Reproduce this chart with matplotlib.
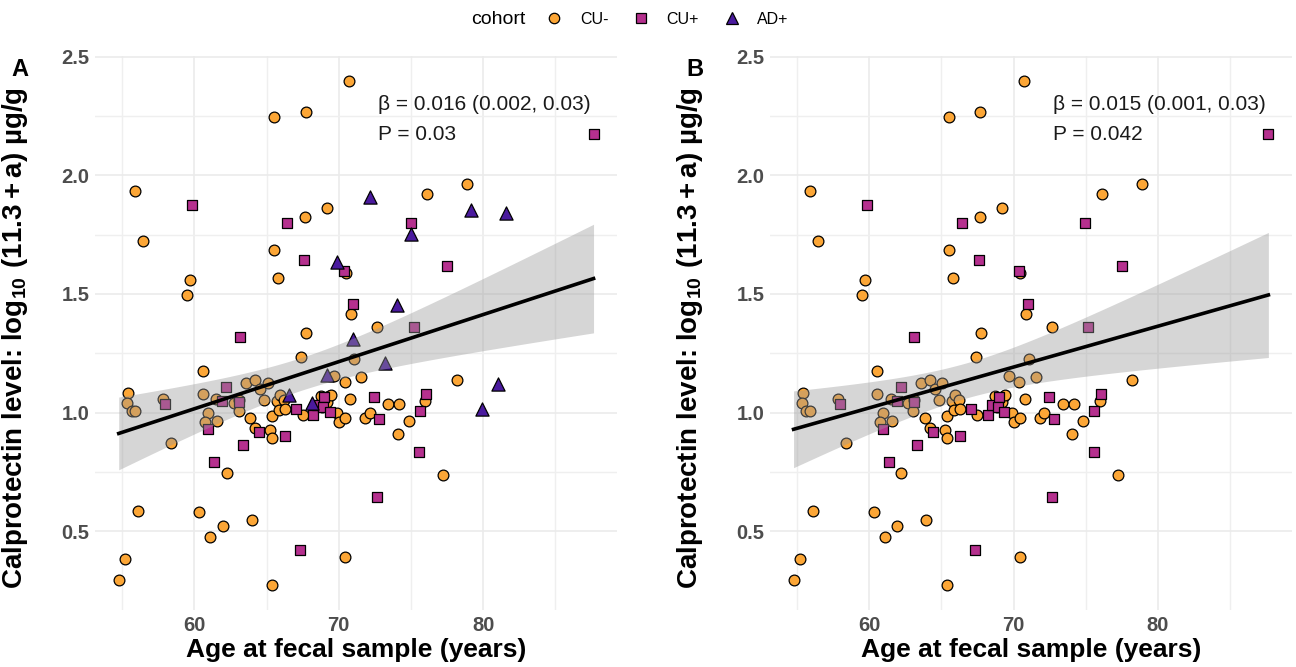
import numpy as np
import matplotlib
matplotlib.use('Agg')
import matplotlib.pyplot as plt
from matplotlib.lines import Line2D

plt.rcParams['font.family'] = ['Liberation Sans', 'DejaVu Sans']
plt.rcParams['mathtext.fontset'] = 'custom'
plt.rcParams['mathtext.rm'] = 'Liberation Sans:bold'
plt.rcParams['mathtext.bf'] = 'Liberation Sans:bold'

# values: (age, log10 calprotectin)
cu_neg_age = [65.5, 67.7, 55.9, 69.2, 67.66, 56.47, 65.55, 59.73, 65.78, 59.48,
              67.73, 70.74, 78.9, 76.12, 70.47, 70.83, 72.66, 67.37, 60.58, 55.41,
              55.34, 55.66, 55.9, 57.83, 58.4, 60.58, 60.93, 60.77, 61.57, 61.5,
              62.72, 63.07, 63.6, 64.19, 64.56, 65.07, 63.87, 64.86, 64.21, 65.23,
              65.37, 65.37, 65.76, 65.92, 66.2, 65.87, 66.28, 67.5, 68.74, 69.32,
              68.86, 69.2, 69.66, 69.9, 70.0, 70.45, 62.24, 56.12, 60.35, 61.96,
              61.07, 63.97, 55.2, 54.77, 65.37, 71.04, 70.4, 71.55, 78.17, 70.81,
              69.43, 76.0, 73.43, 74.19, 71.85, 72.14, 74.83, 74.08, 77.23, 70.42,
              63.1]
cu_neg_val = [2.246, 2.267, 1.933, 1.863, 1.823, 1.721, 1.687, 1.558, 1.568, 1.497,
              1.334, 2.398, 1.964, 1.923, 1.588, 1.416, 1.360, 1.233, 1.175, 1.084,
              1.042, 1.005, 1.005, 1.059, 0.871, 1.080, 0.999, 0.962, 0.965, 1.059,
              1.039, 1.005, 1.126, 1.137, 1.100, 1.126, 0.979, 1.053, 0.933, 0.926,
              0.893, 0.985, 1.049, 1.075, 1.052, 1.009, 1.014, 0.988, 1.069, 1.069,
              1.023, 1.045, 1.152, 1.000, 0.962, 0.977, 0.747, 0.586, 0.581, 0.523,
              0.477, 0.548, 0.384, 0.293, 0.274, 1.225, 1.130, 1.151, 1.137, 1.055,
              1.073, 1.048, 1.035, 1.037, 0.977, 0.998, 0.965, 0.909, 0.735, 0.389,
              1.052]

cu_pos_age = [59.85, 66.4, 67.6, 63.14, 87.64, 74.97, 70.35, 77.52, 71.0, 75.18,
              57.99, 62.19, 60.95, 61.9, 63.09, 64.45, 66.28, 67.07, 68.21, 68.52,
              68.97, 68.9, 69.37, 63.34, 61.37, 67.32, 72.42, 76.03, 75.6, 72.79,
              75.55, 72.66]
cu_pos_val = [1.874, 1.799, 1.642, 1.320, 2.175, 1.798, 1.598, 1.616, 1.459, 1.362,
              1.037, 1.109, 0.931, 1.048, 1.045, 0.917, 0.900, 1.014, 0.991, 1.033,
              1.065, 1.023, 1.002, 0.862, 0.791, 0.419, 1.066, 1.080, 1.005, 0.974,
              0.832, 0.646]

ad_pos_age = [69.9, 72.15, 79.16, 81.6, 74.97, 74.0, 71.0, 66.59, 68.12, 69.16,
              73.23, 81.04, 79.92]
ad_pos_val = [1.634, 1.910, 1.853, 1.842, 1.754, 1.453, 1.310, 1.073, 1.040, 1.158,
              1.210, 1.120, 1.014]

stats_text = ['β = 0.016 (0.002, 0.03)\nP = 0.03',
              'β = 0.015 (0.001, 0.03)\nP = 0.042']
panel_letters = ['A', 'B']

colors = {'CU-': '#FCA636', 'CU+': '#B5308E', 'AD+': '#4A1A9E'}


def draw_panel(ax, groups, note):
    all_x = np.concatenate([np.asarray(g[0]) for g in groups])
    all_y = np.concatenate([np.asarray(g[1]) for g in groups])

    for gx, gy, name, marker, size in groups:
        ax.scatter(gx, gy, s=size, marker=marker, c=colors[name],
                   edgecolors='black', linewidths=0.9, zorder=3)

    # linear fit with 95% band, like geom_smooth(method = "lm")
    slope, intercept = np.polyfit(all_x, all_y, 1)
    n = len(all_x)
    resid = all_y - (intercept + slope * all_x)
    s = np.sqrt(np.sum(resid ** 2) / (n - 2))
    sxx = np.sum((all_x - all_x.mean()) ** 2)
    xs = np.linspace(all_x.min(), all_x.max(), 100)
    fit = intercept + slope * xs
    se = s * np.sqrt(1.0 / n + (xs - all_x.mean()) ** 2 / sxx)
    t = 1.98
    ax.fill_between(xs, fit - t * se, fit + t * se, color='#999999', alpha=0.4,
                    linewidth=0, zorder=4)
    ax.plot(xs, fit, color='black', linewidth=2.6, zorder=5)

    xr = all_x.max() - all_x.min()
    yr = all_y.max() - all_y.min()
    ax.set_xlim(all_x.min() - 0.05 * xr, all_x.max() + 0.05 * xr)
    ax.set_ylim(all_y.min() - 0.05 * yr, all_y.max() + 0.05 * yr)

    ax.set_xticks([60, 70, 80])
    ax.set_xticks([55, 65, 75, 85], minor=True)
    ax.set_yticks([0.5, 1.0, 1.5, 2.0, 2.5])
    ax.set_yticks([0.75, 1.25, 1.75, 2.25], minor=True)
    ax.grid(which='major', color='#EBEBEB', linewidth=1.2, zorder=0)
    ax.grid(which='minor', color='#EFEFEF', linewidth=1.0, zorder=0)
    ax.set_axisbelow(True)
    for sp in ax.spines.values():
        sp.set_visible(False)
    ax.tick_params(which='both', length=0, labelsize=14.5, labelcolor='#4D4D4D', pad=4)
    for lab in ax.get_xticklabels() + ax.get_yticklabels():
        lab.set_fontweight('bold')

    ax.set_xlabel('Age at fecal sample (years)', fontsize=19, fontweight='bold')
    ax.xaxis.set_label_coords(0.5, -0.05)
    ax.set_ylabel(r'Calprotectin level: $\log_{10}\,(11.3 + \mathrm{a})$ µg/g',
                  fontsize=20, fontweight='bold')
    ax.yaxis.set_label_coords(-0.125, 0.49)

    ax.text(72.75, 2.30, note.split('\n')[0], fontsize=15, color='#1A1A1A',
            va='center', ha='left', zorder=6)
    ax.text(72.75, 2.17, note.split('\n')[1], fontsize=15, color='#1A1A1A',
            va='center', ha='left', zorder=6)


fig = plt.figure(figsize=(12.96, 6.67), dpi=100)
axA = fig.add_axes([0.0733, 0.0855, 0.403, 0.831])
axB = fig.add_axes([0.594, 0.0855, 0.403, 0.831])

draw_panel(axA, [(cu_neg_age, cu_neg_val, 'CU-', 'o', 60),
                 (cu_pos_age, cu_pos_val, 'CU+', 's', 50),
                 (ad_pos_age, ad_pos_val, 'AD+', '^', 90)], stats_text[0])
draw_panel(axB, [(cu_neg_age, cu_neg_val, 'CU-', 'o', 60),
                 (cu_pos_age, cu_pos_val, 'CU+', 's', 50)], stats_text[1])

fig.text(20 / 1296, 1 - 70 / 667, panel_letters[0], fontsize=17, fontweight='bold',
         ha='center', va='center')
fig.text(695 / 1296, 1 - 70 / 667, panel_letters[1], fontsize=17, fontweight='bold',
         ha='center', va='center')

# legend across the top
fig.text(498 / 1296, 1 - 19 / 667, 'cohort', fontsize=14, ha='center', va='center')
handles = [Line2D([], [], linestyle='none', marker='o', markersize=7.5,
                  markerfacecolor=colors['CU-'], markeredgecolor='black', markeredgewidth=0.9),
           Line2D([], [], linestyle='none', marker='s', markersize=7,
                  markerfacecolor=colors['CU+'], markeredgecolor='black', markeredgewidth=0.9),
           Line2D([], [], linestyle='none', marker='^', markersize=9,
                  markerfacecolor=colors['AD+'], markeredgecolor='black', markeredgewidth=0.9)]
fig.legend(handles, ['CU-', 'CU+', 'AD+'], ncol=3, frameon=False, fontsize=11.5,
           loc='center left', bbox_to_anchor=(532 / 1296, 1 - 19 / 667),
           handletextpad=1.1, columnspacing=1.55, handlelength=1.0)

fig.savefig('out.png', dpi=100)
